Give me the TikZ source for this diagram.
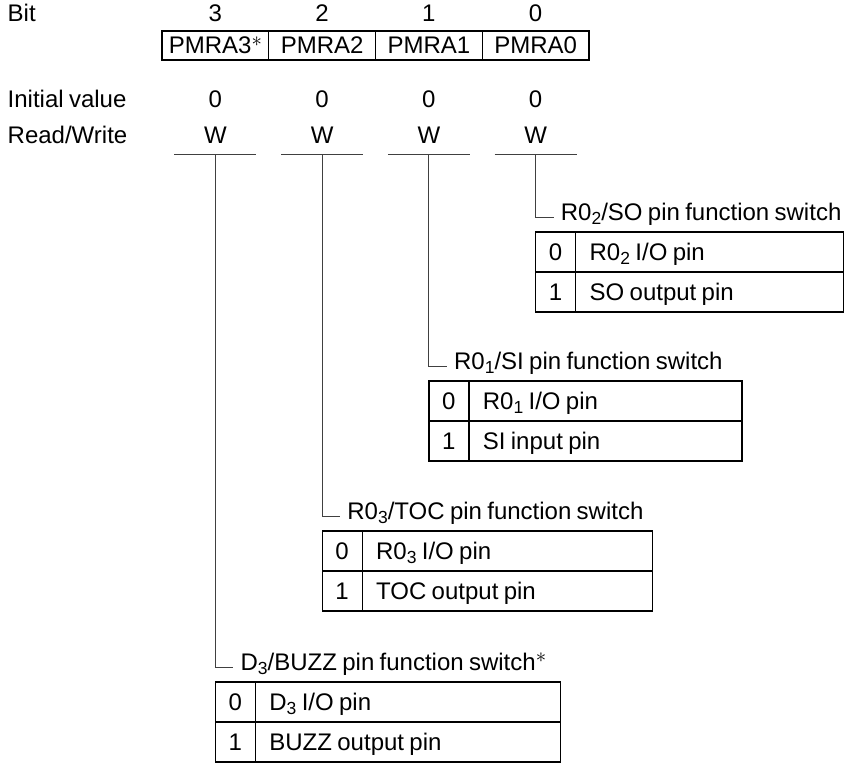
\documentclass[tikz,border=0pt]{standalone}
\usepackage{fontspec}
\setmainfont{Liberation Sans}[WordSpace=0.8]
\usetikzlibrary{positioning}
\newcommand{\lsub}[1]{\raisebox{-4pt}{\fontsize{17.5}{17.5}\selectfont #1}}
\newcommand{\fnstar}{\raisebox{7.5pt}{\fontsize{20}{20}\selectfont$\ast$}}

\begin{document}
\begin{tikzpicture}[
      x=1pt,y=-1pt,
      every node/.style={font=\fontsize{24}{28}\selectfont},
      hdr/.style={anchor=base west,inner sep=0pt},
      val/.style={anchor=base,inner sep=0pt},
      regcell/.style={draw,line width=1.2pt,minimum width=106.75pt,minimum height=29pt,
                      inner sep=0pt,outer sep=0pt},
      numcell/.style={draw,line width=1.2pt,minimum width=40pt,minimum height=40pt,
                      inner sep=0pt,outer sep=0pt,text height=17.5pt,text depth=0pt},
      desccell/.style={draw,line width=1.2pt,minimum height=40pt,text width=#1,align=flush left,
                       inner xsep=14pt,inner ysep=0pt,outer sep=0pt,text height=17.5pt,text depth=0pt},
      fnlabel/.style={anchor=base west,inner sep=0pt},
      conn/.style={line width=1pt,black!75}
    ]
    \useasboundingbox (0,0) rectangle (845,763);

    % Row titles
    \node (hbit) [hdr] at (7.5,21.7) {Bit};
    \node (hinit) [hdr] at (7.5,107.3) {Initial value};
    \node (hrw) [hdr] at (7.5,143.3) {Read/Write};

    % Register
    \node (reg3) [regcell] at (215.4,45.5) {PMRA3\fnstar};
    \node (reg2) [regcell,right=0pt of reg3] {PMRA2};
    \node (reg1) [regcell,right=0pt of reg2] {PMRA1};
    \node (reg0) [regcell,right=0pt of reg1] {PMRA0};

    \coordinate (ybit) at (0,21.7);
    \coordinate (yinit) at (0,107.3);
    \coordinate (yrw) at (0,143.3);
    \coordinate (yline) at (0,154);

    % Bit numbers, initial values, read/write
    \node (bit3) [val] at (reg3 |- ybit) {3};
    \node (bit2) [val] at (reg2 |- ybit) {2};
    \node (bit1) [val] at (reg1 |- ybit) {1};
    \node (bit0) [val] at (reg0 |- ybit) {0};
    \node (ini3) [val] at (reg3 |- yinit) {0};
    \node (ini2) [val] at (reg2 |- yinit) {0};
    \node (ini1) [val] at (reg1 |- yinit) {0};
    \node (ini0) [val] at (reg0 |- yinit) {0};
    \node (rw3) [val] at (reg3 |- yrw) {W};
    \node (rw2) [val] at (reg2 |- yrw) {W};
    \node (rw1) [val] at (reg1 |- yrw) {W};
    \node (rw0) [val] at (reg0 |- yrw) {W};

    % Bars under W
    \draw[conn] (reg3 |- yline) ++(-41,0) -- ++(82,0);
    \draw[conn] (reg2 |- yline) ++(-41,0) -- ++(82,0);
    \draw[conn] (reg1 |- yline) ++(-41,0) -- ++(82,0);
    \draw[conn] (reg0 |- yline) ++(-41,0) -- ++(82,0);

    % Table for bit 0
    \node (n00) [numcell] at (555.65,252) {0};
    \node (d00) [desccell=240pt,right=0pt of n00] {R0\lsub{2} I/O pin};
    \node (n01) [numcell,below=0pt of n00] {1};
    \node (d01) [desccell=240pt,right=0pt of n01] {SO output pin};

    % Table for bit 1
    \node (n10) [numcell] at (448.9,401) {0};
    \node (d10) [desccell=245pt,right=0pt of n10] {R0\lsub{1} I/O pin};
    \node (n11) [numcell,below=0pt of n10] {1};
    \node (d11) [desccell=245pt,right=0pt of n11] {SI input pin};

    % Table for bit 2
    \node (n20) [numcell] at (342.15,551) {0};
    \node (d20) [desccell=262pt,right=0pt of n20] {R0\lsub{3} I/O pin};
    \node (n21) [numcell,below=0pt of n20] {1};
    \node (d21) [desccell=262pt,right=0pt of n21] {TOC output pin};

    % Table for bit 3
    \node (n30) [numcell] at (235.4,702) {0};
    \node (d30) [desccell=277pt,right=0pt of n30] {D\lsub{3} I/O pin};
    \node (n31) [numcell,below=0pt of n30] {1};
    \node (d31) [desccell=277pt,right=0pt of n31] {BUZZ output pin};

    % Leaders and captions
    \coordinate (tk0) at ([shift={(18,-15)}]n00.north west);
    \coordinate (tk1) at ([shift={(18,-15)}]n10.north west);
    \coordinate (tk2) at ([shift={(18,-15)}]n20.north west);
    \coordinate (tk3) at ([shift={(18,-15)}]n30.north west);

    \draw[conn] (reg0 |- yline) |- (tk0);
    \draw[conn] (reg1 |- yline) |- (tk1);
    \draw[conn] (reg2 |- yline) |- (tk2);
    \draw[conn] (reg3 |- yline) |- (tk3);

    \node (lab0) [fnlabel] at ([shift={(7,3)}]tk0) {R0\lsub{2}/SO pin function switch};
    \node (lab1) [fnlabel] at ([shift={(7,3)}]tk1) {R0\lsub{1}/SI pin function switch};
    \node (lab2) [fnlabel] at ([shift={(7,3)}]tk2) {R0\lsub{3}/TOC pin function switch};
    \node (lab3) [fnlabel] at ([shift={(7,3)}]tk3) {D\lsub{3}/BUZZ pin function switch\fnstar};
  \end{tikzpicture}
\end{document}
